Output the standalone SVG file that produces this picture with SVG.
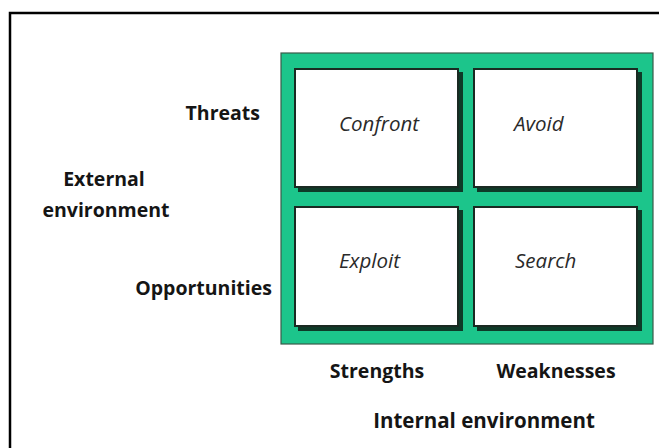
<svg xmlns="http://www.w3.org/2000/svg" width="659" height="448" viewBox="0 0 659 448">
<style>
.lbl{font-family:"Open Sans","Liberation Sans",sans-serif;font-weight:bold;font-size:19.5px;fill:#151515}
.cell{font-family:"Open Sans","Liberation Sans",sans-serif;font-style:italic;font-size:20.5px;fill:#2a2a2a}
.box{fill:#ffffff;stroke:#1a2a22;stroke-width:2}
.shadow{fill:#0e3a28}
</style>
<rect x="0" y="0" width="659" height="448" fill="#ffffff"/>
<rect x="10" y="13" width="670" height="460" fill="none" stroke="#000" stroke-width="2.5"/>
<g id="matrix">
<rect x="281" y="53" width="372" height="291" fill="#1cc58b" stroke="#3a5a4a" stroke-width="1.2"/>
</g>
<g id="confront">
<rect class="shadow" x="298" y="72" width="165" height="120"/>
<rect class="box" x="295" y="69" width="163" height="118"/>
<text class="cell" x="339" y="131">Confront</text>
</g>
<g id="avoid">
<rect class="shadow" x="477" y="72" width="165" height="120"/>
<rect class="box" x="474" y="69" width="163" height="118"/>
<text class="cell" x="514" y="131">Avoid</text>
</g>
<g id="exploit">
<rect class="shadow" x="298" y="210" width="165" height="121"/>
<rect class="box" x="295" y="207" width="163" height="119"/>
<text class="cell" x="339" y="268">Exploit</text>
</g>
<g id="search">
<rect class="shadow" x="477" y="210" width="165" height="121"/>
<rect class="box" x="474" y="207" width="163" height="119"/>
<text class="cell" x="515" y="268">Search</text>
</g>
<g id="labels">
<text class="lbl" x="260" y="120" text-anchor="end">Threats</text>
<text class="lbl" x="104" y="186" text-anchor="middle">External</text>
<text class="lbl" x="106" y="217" text-anchor="middle">environment</text>
<text class="lbl" x="272" y="295" text-anchor="end">Opportunities</text>
<text class="lbl" x="377" y="378" text-anchor="middle">Strengths</text>
<text class="lbl" x="556" y="378" text-anchor="middle">Weaknesses</text>
<text class="lbl" x="484" y="428" text-anchor="middle" style="font-size:20.5px">Internal environment</text>
</g>
<g id="connectors"></g>
</svg>
